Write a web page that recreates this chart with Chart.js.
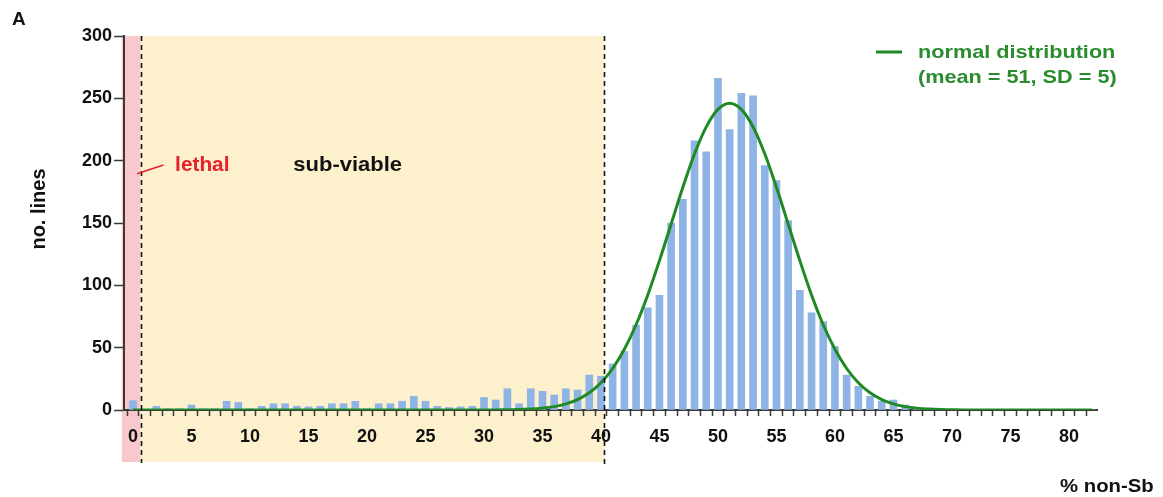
<!DOCTYPE html>
<html>
<head>
<meta charset="utf-8">
<script src="https://cdn.jsdelivr.net/npm/chart.js@4.4.1/dist/chart.umd.min.js"></script>
<style>
  html, body { margin: 0; padding: 0; background: #ffffff; }
  #wrap { width: 1163px; height: 497px; position: relative; }
</style>
</head>
<body>
<div id="wrap"><canvas id="c" width="1163" height="497"></canvas></div>
<script>
// ---- data ----
const categories = [0,1,2,3,4,5,6,7,8,9,10,11,12,13,14,15,16,17,18,19,20,21,22,23,24,25,26,27,28,29,30,31,32,33,34,35,36,37,38,39,40,41,42,43,44,45,46,47,48,49,50,51,52,53,54,55,56,57,58,59,60,61,62,63,64,65,66,67,68,69,70,71,72,73,74,75,76,77,78,79,80,81,82];
const lineCounts = [7.5,0,3,1,1,4,1,1,7,6,1,3,5,5,3,2.5,3,5,5,7,1,5,5,7,11,7,3,2,2.5,3,10,8,17,5,17,15,12,17,16,28,27,37,47,68,82,92,150,169,216,207,266,225,254,252,196,184,152,96,78,71,51,28,19,11,7,8,4,2,1,0,0,0,0,0,0,0,0,0,0,0,0,0,0];
const normalCurve = [0,0,0,0,0,0,0,0,0,0,0,0,0,0,0,0,0,0,0,0,0,0,0,0,0,0,0,0,0,0,0,0,0.2,0.4,0.8,1.5,2.7,4.9,8.4,13.8,21.9,33.3,48.7,68.4,92.3,119.8,149.2,178.6,205.5,227.1,241.1,246,241.1,227.1,205.5,178.6,149.2,119.8,92.3,68.4,48.7,33.3,21.9,13.8,8.4,4.9,2.7,1.5,0.8,0.4,0.2,0,0,0,0,0,0,0,0,0,0,0,0];
const xTickLabels = [0,5,10,15,20,25,30,35,40,45,50,55,60,65,70,75,80];
const yTickValues = [0,50,100,150,200,250,300];
const lethalRange = [-0.95, 0.65];
const subViableRange = [0.65, 40.3];
const xRange = [-0.77, 82.4];
const yRange = [0, 300];

const FONT = "'Liberation Sans', Arial, sans-serif";
const AXIS = '#3a3a3a';
const GREEN = '#1f8a24';

function stretchText(ctx, text, x, y, sx) {
  ctx.save();
  ctx.translate(x, y);
  ctx.scale(sx, 1);
  ctx.fillText(text, 0, 0);
  ctx.restore();
}

const bgPlugin = {
  id: 'bg',
  beforeDraw(chart) {
    const {ctx} = chart;
    const x = chart.scales.x, y = chart.scales.y;
    const top = y.getPixelForValue(yRange[1]);
    const bottom = chart.chartArea.bottom + 52;
    ctx.save();
    ctx.fillStyle = '#f9c8cc';
    const lx0 = x.getPixelForValue(lethalRange[0]), lx1 = x.getPixelForValue(lethalRange[1]);
    ctx.fillRect(lx0, top, lx1 - lx0, bottom - top);
    ctx.fillStyle = '#fdf0cd';
    const sx0 = x.getPixelForValue(subViableRange[0]), sx1 = x.getPixelForValue(subViableRange[1]);
    ctx.fillRect(sx0, top, sx1 - sx0, bottom - top);
    ctx.restore();
  },
  afterDatasetsDraw(chart) {
    const {ctx} = chart;
    const x = chart.scales.x, y = chart.scales.y;
    const top = y.getPixelForValue(yRange[1]);
    ctx.save();
    ctx.strokeStyle = '#111';
    ctx.lineWidth = 1.6;
    ctx.setLineDash([5, 4]);
    let px = Math.round(x.getPixelForValue(lethalRange[1])) + 0.5;
    ctx.beginPath(); ctx.moveTo(px, top); ctx.lineTo(px, chart.chartArea.bottom + 53); ctx.stroke();
    px = Math.round(x.getPixelForValue(subViableRange[1])) + 0.5;
    ctx.beginPath(); ctx.moveTo(px, top); ctx.lineTo(px, chart.chartArea.bottom + 57); ctx.stroke();
    ctx.restore();
  },
  afterDraw(chart) {
    const {ctx} = chart;
    const x = chart.scales.x, y = chart.scales.y;
    const ca = chart.chartArea;
    ctx.save();
    ctx.textBaseline = 'alphabetic';
    ctx.fillStyle = '#111';
    ctx.font = 'bold 19px ' + FONT;
    ctx.fillText('A', 12, 25);
    // y title
    ctx.save();
    ctx.translate(45, (ca.top + ca.bottom) / 2 - 14);
    ctx.rotate(-Math.PI / 2);
    ctx.textAlign = 'center';
    ctx.font = 'bold 20px ' + FONT;
    ctx.fillText('no. lines', 0, 0);
    ctx.restore();
    // x title
    ctx.font = 'bold 19px ' + FONT;
    ctx.textAlign = 'left';
    stretchText(ctx, '% non-Sb', ca.right - 37, ca.bottom + 82, 1.07);
    // region labels
    ctx.textBaseline = 'middle';
    ctx.font = 'bold 20px ' + FONT;
    ctx.fillStyle = '#e8202a';
    stretchText(ctx, 'lethal', x.getPixelForValue(3.6), y.getPixelForValue(196.5), 1.04);
    ctx.strokeStyle = '#e8202a';
    ctx.lineWidth = 1.6;
    ctx.beginPath();
    ctx.moveTo(x.getPixelForValue(0.35), y.getPixelForValue(189.5));
    ctx.lineTo(x.getPixelForValue(2.6), y.getPixelForValue(196.5));
    ctx.stroke();
    ctx.fillStyle = '#111';
    stretchText(ctx, 'sub-viable', x.getPixelForValue(13.7), y.getPixelForValue(196.5), 1.1);
    // legend
    ctx.strokeStyle = GREEN;
    ctx.lineWidth = 3;
    ctx.beginPath();
    ctx.moveTo(ca.right - 221, 52); ctx.lineTo(ca.right - 195, 52); ctx.stroke();
    ctx.fillStyle = '#2a8c2e';
    ctx.font = 'bold 19px ' + FONT;
    stretchText(ctx, 'normal distribution', ca.right - 179, 53, 1.14);
    stretchText(ctx, '(mean = 51, SD = 5)', ca.right - 179, 78, 1.14);
    ctx.restore();
  }
};

new Chart(document.getElementById('c'), {
  data: {
    datasets: [
      {
        type: 'line',
        label: 'normal distribution (mean = 51, SD = 5)',
        data: categories.map((c, i) => ({x: c, y: normalCurve[i]})),
        borderColor: GREEN,
        borderWidth: 3,
        pointRadius: 0,
        cubicInterpolationMode: 'monotone',
        fill: false,
        order: 0
      },
      {
        type: 'bar',
        label: 'no. lines',
        data: categories.map((c, i) => ({x: c, y: lineCounts[i]})),
        backgroundColor: '#8db4e4',
        borderWidth: 0,
        barThickness: 7,
        order: 1
      }
    ]
  },
  options: {
    responsive: false,
    animation: false,
    layout: { padding: { top: 36, right: 66, left: 0, bottom: 0 } },
    plugins: { legend: { display: false }, tooltip: { enabled: false } },
    scales: {
      x: {
        type: 'linear',
        min: xRange[0],
        max: xRange[1],
        offset: false,
        afterFit(s) { s.height = 87; },
        afterBuildTicks(s) { s.ticks = categories.map(v => ({value: v})); },
        grid: { drawOnChartArea: false, drawTicks: true, tickLength: 6, tickColor: AXIS, tickWidth: 1.5 },
        border: { color: AXIS, width: 2 },
        ticks: {
          autoSkip: false, maxRotation: 0, minRotation: 0, padding: 10,
          color: '#111',
          font: { family: FONT, size: 18, weight: 'bold' },
          callback: (v) => xTickLabels.includes(v) ? String(v) : ''
        }
      },
      y: {
        type: 'linear',
        min: yRange[0],
        max: yRange[1],
        afterFit(s) { s.width = 124; },
        afterBuildTicks(s) { s.ticks = yTickValues.map(v => ({value: v})); },
        grid: { drawOnChartArea: false, drawTicks: true, tickLength: 10, tickColor: AXIS, tickWidth: 1.5 },
        border: { color: AXIS, width: 2 },
        ticks: {
          padding: 2, color: '#111',
          font: { family: FONT, size: 18, weight: 'bold' }
        }
      }
    }
  },
  plugins: [bgPlugin]
});
</script>
</body>
</html>
